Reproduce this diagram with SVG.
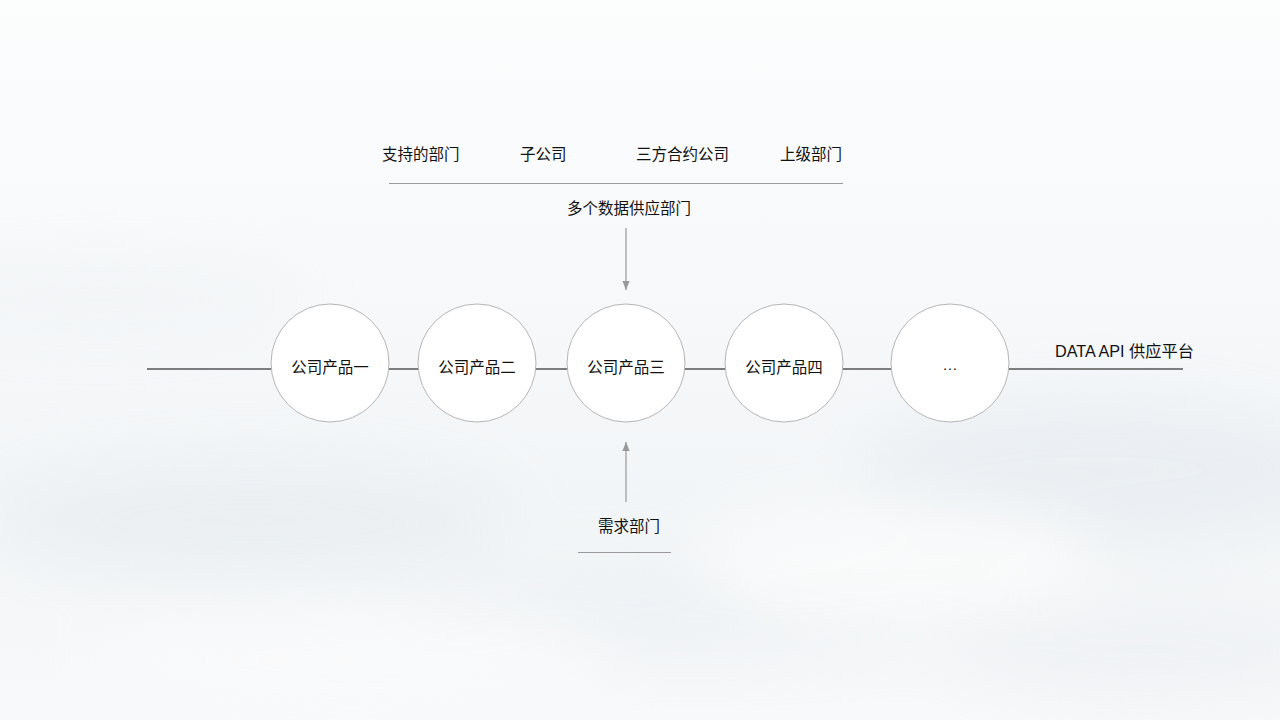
<svg xmlns="http://www.w3.org/2000/svg" width="1280" height="720" viewBox="0 0 1280 720">
  <defs>
    <linearGradient id="bg" x1="0" y1="0" x2="0" y2="1">
      <stop offset="0" stop-color="#fcfdfd"/>
      <stop offset="0.45" stop-color="#f6f8fa"/>
      <stop offset="0.7" stop-color="#f2f5f7"/>
      <stop offset="1" stop-color="#f8f9fa"/>
    </linearGradient>
    <filter id="blur" x="-50%" y="-50%" width="200%" height="200%">
      <feGaussianBlur stdDeviation="30"/>
    </filter>
    <marker id="arr" viewBox="0 0 10 10" refX="10" refY="5" markerWidth="6" markerHeight="6" orient="auto">
      <path d="M0,1 L10,5 L0,9 Z" fill="#999"/>
    </marker>
    <style>
      .lbl { font-family: "Liberation Sans", "Noto Sans CJK SC", sans-serif; font-size: 15.5px; fill: #111; }
      .mid { text-anchor: middle; }
      .node circle { fill: #ffffff; stroke: #b5b5b5; stroke-width: 1; }
      .axis { stroke: #555; stroke-width: 1.5; fill: none; }
      .sep { stroke: #9a9a9a; stroke-width: 1; }
      .arrow { stroke: #aaa; stroke-width: 1.5; fill: none; marker-end: url(#arr); }
    </style>
  </defs>
  <rect width="1280" height="720" fill="url(#bg)"/>
  <g filter="url(#blur)" opacity="0.8">
    <ellipse cx="250" cy="520" rx="260" ry="60" fill="#e9eef1"/>
    <ellipse cx="700" cy="610" rx="320" ry="50" fill="#edf1f4"/>
    <ellipse cx="1100" cy="470" rx="240" ry="70" fill="#e8edf1"/>
    <ellipse cx="1150" cy="650" rx="200" ry="50" fill="#eef1f4"/>
    <ellipse cx="350" cy="660" rx="260" ry="50" fill="#fafbfc"/>
    <ellipse cx="900" cy="560" rx="200" ry="60" fill="#fbfcfc"/>
    <ellipse cx="100" cy="300" rx="200" ry="40" fill="#f1f4f6"/>
  </g>

  <g id="connectors">
    <line class="axis" x1="147" y1="369" x2="1183" y2="369"/>
    <line class="arrow" x1="626" y1="228" x2="626" y2="290"/>
    <line class="arrow" x1="626" y1="502" x2="626" y2="442"/>
  </g>

  <g id="top-labels">
    <text class="lbl" x="382" y="160">支持的部门</text>
    <text class="lbl" x="520" y="160">子公司</text>
    <text class="lbl" x="636" y="160">三方合约公司</text>
    <text class="lbl" x="780" y="160">上级部门</text>
    <line class="sep" x1="389" y1="183.5" x2="843" y2="183.5"/>
    <text class="lbl mid" x="629" y="214">多个数据供应部门</text>
  </g>

  <g id="node1" class="node">
    <circle cx="330" cy="363" r="59"/>
    <text class="lbl mid" x="330" y="373">公司产品一</text>
  </g>
  <g id="node2" class="node">
    <circle cx="477" cy="363" r="59"/>
    <text class="lbl mid" x="477" y="373">公司产品二</text>
  </g>
  <g id="node3" class="node">
    <circle cx="626" cy="363" r="59"/>
    <text class="lbl mid" x="626" y="373">公司产品三</text>
  </g>
  <g id="node4" class="node">
    <circle cx="784" cy="363" r="59"/>
    <text class="lbl mid" x="784" y="373">公司产品四</text>
  </g>
  <g id="node5" class="node">
    <circle cx="950" cy="363" r="59"/>
    <text class="lbl mid" x="950" y="370">…</text>
  </g>

  <g id="platform">
    <text class="lbl" x="1055" y="357" style="font-size:16.2px">DATA API 供应平台</text>
  </g>

  <g id="demand">
    <text class="lbl mid" x="629" y="532">需求部门</text>
    <line class="sep" x1="578" y1="552.5" x2="671" y2="552.5"/>
  </g>
</svg>
